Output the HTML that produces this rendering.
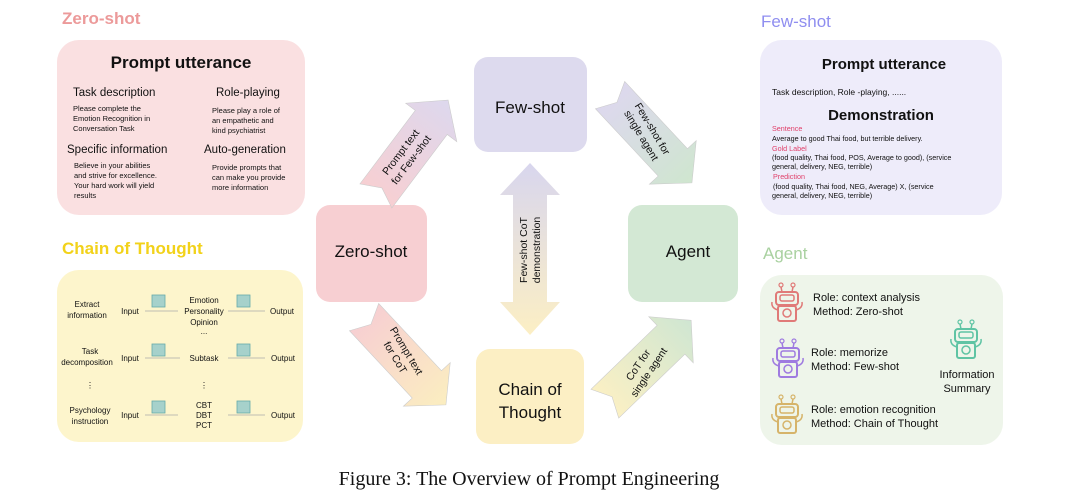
<!DOCTYPE html>
<html><head><meta charset="utf-8"><style>
html,body{margin:0;padding:0;background:#fff}
svg{display:block}
text{font-family:"Liberation Sans",sans-serif;fill:#111}
</style></head><body>
<svg width="1080" height="503" viewBox="0 0 1080 503" xmlns="http://www.w3.org/2000/svg">
<defs>
<linearGradient id="g1" x1="0" y1="0" x2="1" y2="0"><stop offset="0" stop-color="#f7cfd2"/><stop offset="1" stop-color="#ddd8ee"/></linearGradient>
<linearGradient id="g2" x1="0" y1="0" x2="1" y2="0"><stop offset="0" stop-color="#ddd8ee"/><stop offset="1" stop-color="#cfe6cf"/></linearGradient>
<linearGradient id="g3" x1="0" y1="0" x2="1" y2="0"><stop offset="0" stop-color="#f7cfd2"/><stop offset="1" stop-color="#fbeec0"/></linearGradient>
<linearGradient id="g4" x1="0" y1="0" x2="1" y2="0"><stop offset="0" stop-color="#fbf0c4"/><stop offset="1" stop-color="#cfe6d2"/></linearGradient>
<linearGradient id="gv" x1="0" y1="0" x2="0" y2="1"><stop offset="0" stop-color="#d8d6ee"/><stop offset="1" stop-color="#fcefc4"/></linearGradient>
<g id="robot">
  <rect x="-11" y="-14" width="22" height="13" rx="3" fill="none" stroke-width="2"/>
  <rect x="-7" y="-11" width="14" height="6" rx="2" fill="none" stroke-width="1.5"/>
  <rect x="-9" y="0" width="18" height="15" rx="2" fill="none" stroke-width="2"/>
  <circle cx="0" cy="7" r="4" fill="none" stroke-width="1.5"/>
  <line x1="-5" y1="-14" x2="-6" y2="-19" stroke-width="1.5"/><circle cx="-6" cy="-21" r="2" fill="none" stroke-width="1.2"/>
  <line x1="5" y1="-14" x2="6" y2="-19" stroke-width="1.5"/><circle cx="6" cy="-21" r="2" fill="none" stroke-width="1.2"/>
  <path d="M-9 4 Q-16 2 -15 -4 M9 4 Q16 2 15 -4" fill="none" stroke-width="1.5"/>
</g>
</defs>

<!-- Zero-shot panel -->
<text x="62" y="24" font-size="17" font-weight="bold" style="fill:#ec9a9a">Zero-shot</text>
<rect x="57" y="40" width="248" height="175" rx="22" fill="#fae0e1"/>
<text x="181" y="68" font-size="17" font-weight="bold" text-anchor="middle">Prompt utterance</text>
<text x="73" y="96" font-size="11.5">Task description</text>
<text x="216" y="96" font-size="11.5">Role-playing</text>
<g font-size="7.5"><text x="73" y="111">Please complete the</text><text x="73" y="121">Emotion Recognition in</text><text x="73" y="131">Conversation Task</text>
<text x="212" y="113">Please play a role of</text><text x="212" y="123">an empathetic and</text><text x="212" y="133">kind psychiatrist</text></g>
<text x="67" y="153" font-size="11.5">Specific information</text>
<text x="204" y="153" font-size="11.5">Auto-generation</text>
<g font-size="7.5"><text x="74" y="168">Believe in your abilities</text><text x="74" y="178">and strive for excellence.</text><text x="74" y="188">Your hard work will yield</text><text x="74" y="198">results</text>
<text x="212" y="170">Provide prompts that</text><text x="212" y="180">can make you provide</text><text x="212" y="190">more information</text></g>

<!-- CoT panel -->
<text x="62" y="254" font-size="17" font-weight="bold" style="fill:#f2d21a">Chain of Thought</text>
<rect x="57" y="270" width="246" height="172" rx="22" fill="#fdf5cc"/>
<g font-size="8" text-anchor="middle">
<text x="87" y="307">Extract</text><text x="87" y="318">information</text>
<text x="130" y="314">Input</text>
<text x="204" y="303">Emotion</text><text x="204" y="314">Personality</text><text x="204" y="325">Opinion</text><text x="204" y="334">...</text>
<text x="282" y="314">Output</text>
<text x="90" y="354">Task</text><text x="87" y="365">decomposition</text>
<text x="130" y="361">Input</text><text x="204" y="361">Subtask</text><text x="283" y="361">Output</text>
<text x="90" y="388">⋮</text><text x="204" y="388">⋮</text>
<text x="90" y="413">Psychology</text><text x="90" y="424">instruction</text>
<text x="130" y="418">Input</text><text x="204" y="408">CBT</text><text x="204" y="418">DBT</text><text x="204" y="428">PCT</text>
<text x="283" y="418">Output</text>
</g>
<g fill="#a6d1cb" stroke="#6aa" stroke-width="0.8">
<rect x="152" y="295" width="13" height="12"/><rect x="237" y="295" width="13" height="12"/>
<rect x="152" y="344" width="13" height="12"/><rect x="237" y="344" width="13" height="12"/>
<rect x="152" y="401" width="13" height="12"/><rect x="237" y="401" width="13" height="12"/>
</g>
<g stroke="#aaa" stroke-width="0.8">
<line x1="145" y1="311" x2="178" y2="311"/><line x1="228" y1="311" x2="265" y2="311"/>
<line x1="145" y1="358" x2="180" y2="358"/><line x1="228" y1="358" x2="265" y2="358"/>
<line x1="145" y1="415" x2="178" y2="415"/><line x1="228" y1="415" x2="265" y2="415"/>
</g>

<!-- Few-shot panel -->
<text x="761" y="27" font-size="17" style="fill:#8f8ef0">Few-shot</text>
<rect x="760" y="40" width="242" height="175" rx="22" fill="#eeecfa"/>
<text x="884" y="69" font-size="15" font-weight="bold" text-anchor="middle">Prompt utterance</text>
<text x="772" y="95" font-size="8.5">Task description, Role -playing, ......</text>
<text x="881" y="120" font-size="15" font-weight="bold" text-anchor="middle">Demonstration</text>
<g font-size="7.2">
<text x="772" y="131" style="fill:#e0406a">Sentence</text>
<text x="772" y="141">Average to good Thai food, but terrible delivery.</text>
<text x="772" y="151" style="fill:#e0406a">Gold Label</text>
<text x="772" y="160">(food quality, Thai food, POS, Average to good), (service</text>
<text x="772" y="169">general, delivery, NEG, terrible)</text>
<text x="773" y="179" style="fill:#e0406a">Prediction</text>
<text x="773" y="189">(food quality, Thai food, NEG, Average) X, (service</text>
<text x="772" y="198">general, delivery, NEG, terrible)</text>
</g>

<!-- Agent panel -->
<text x="763" y="259" font-size="17" style="fill:#a9d1a0">Agent</text>
<rect x="760" y="275" width="243" height="170" rx="22" fill="#eef5ea"/>
<use href="#robot" x="787" y="306" stroke="#e07a78"/>
<use href="#robot" x="788" y="362" stroke="#9f7be0"/>
<use href="#robot" x="787" y="418" stroke="#d6b46a"/>
<use href="#robot" x="966" y="343" stroke="#5fc4a4"/>
<g font-size="11">
<text x="813" y="301">Role: context analysis</text><text x="813" y="315">Method: Zero-shot</text>
<text x="811" y="356">Role: memorize</text><text x="811" y="370">Method: Few-shot</text>
<text x="811" y="413">Role: emotion recognition</text><text x="811" y="427">Method: Chain of Thought</text>
<text x="967" y="378" text-anchor="middle">Information</text><text x="967" y="392" text-anchor="middle">Summary</text>
</g>

<!-- Center boxes -->
<rect x="474" y="57" width="113" height="95" rx="14" fill="#dddaee"/>
<text x="530" y="113" font-size="17" text-anchor="middle">Few-shot</text>
<rect x="316" y="205" width="111" height="97" rx="14" fill="#f7cfd2"/>
<text x="371" y="257" font-size="17" text-anchor="middle">Zero-shot</text>
<rect x="628" y="205" width="110" height="97" rx="14" fill="#d3e8d4"/>
<text x="688" y="257" font-size="17" text-anchor="middle">Agent</text>
<rect x="476" y="349" width="108" height="95" rx="14" fill="#fcefc4"/>
<text x="530" y="395" font-size="17" text-anchor="middle">Chain of</text>
<text x="530" y="418" font-size="17" text-anchor="middle">Thought</text>

<!-- Vertical double arrow -->
<polygon points="530,163 560,195 547,195 547,302 560,302 530,335 500,302 513,302 513,195 500,195" fill="url(#gv)"/>
<g transform="translate(530,250) rotate(-90)" font-size="10.5" text-anchor="middle">
<text x="0" y="-3">Few-shot CoT</text><text x="0" y="10">demonstration</text></g>

<!-- Diagonal arrows -->
<g transform="translate(412,148) rotate(-53)">
<polygon points="-60,-20 32,-20 32,-32 60,0 32,32 32,20 -60,20 -50,0" fill="url(#g1)" stroke="#ccc" stroke-width="0.6"/>
<text x="-10" y="-3" font-size="10.5" text-anchor="middle">Prompt text</text><text x="-10" y="10" font-size="10.5" text-anchor="middle">for Few-shot</text></g>
<g transform="translate(651,139) rotate(47)">
<polygon points="-60,-20 32,-20 32,-32 60,0 32,32 32,20 -60,20 -50,0" fill="url(#g2)" stroke="#ccc" stroke-width="0.6"/>
<g transform="rotate(12)"><text x="-8" y="-3" font-size="10.5" text-anchor="middle">Few-shot for</text><text x="-8" y="10" font-size="10.5" text-anchor="middle">single agent</text></g></g>
<g transform="translate(405,361) rotate(47)">
<polygon points="-60,-20 32,-20 32,-32 60,0 32,32 32,20 -60,20 -50,0" fill="url(#g3)" stroke="#ccc" stroke-width="0.6"/>
<g transform="rotate(12)"><text x="-8" y="-3" font-size="10.5" text-anchor="middle">Prompt text</text><text x="-8" y="10" font-size="10.5" text-anchor="middle">for CoT</text></g></g>
<g transform="translate(648,362) rotate(-44)">
<polygon points="-60,-20 32,-20 32,-32 60,0 32,32 32,20 -60,20 -50,0" fill="url(#g4)" stroke="#ccc" stroke-width="0.6"/>
<g transform="rotate(-12)"><text x="-8" y="-3" font-size="10.5" text-anchor="middle">CoT for</text><text x="-8" y="10" font-size="10.5" text-anchor="middle">single agent</text></g></g>

<!-- Caption -->
<text x="529" y="485" font-size="20" text-anchor="middle" style="font-family:'Liberation Serif',serif">Figure 3: The Overview of Prompt Engineering</text>
</svg>
</body></html>
